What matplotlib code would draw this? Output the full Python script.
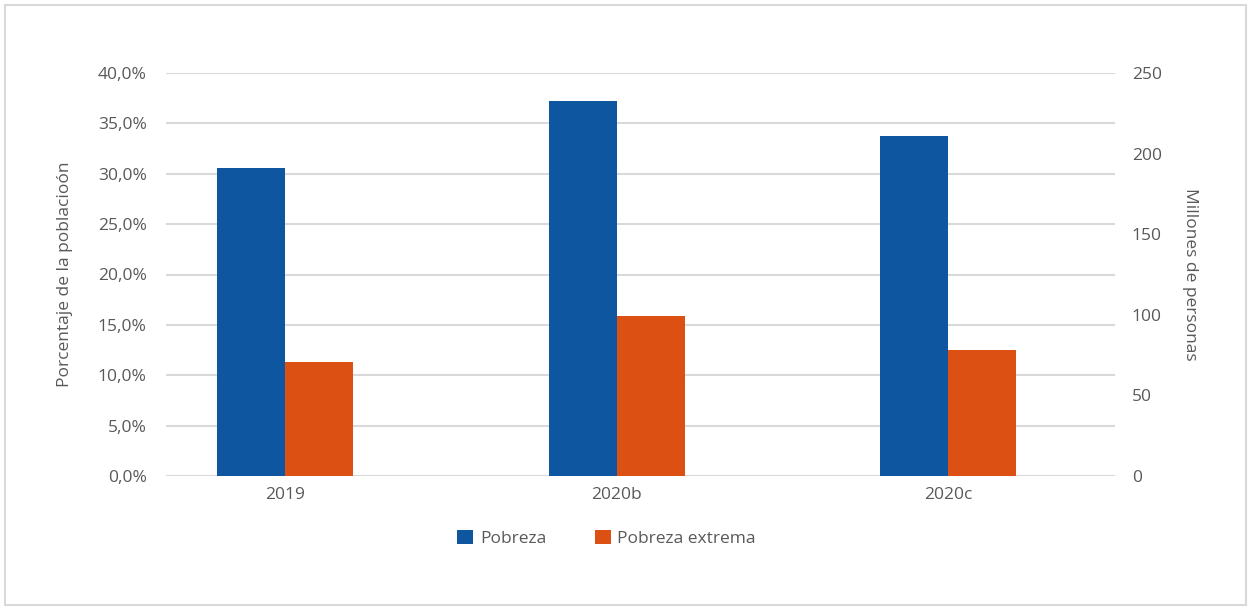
import matplotlib.pyplot as plt
from matplotlib.patches import FancyBboxPatch
import numpy as np

# data
years = ["2019", "2020b", "2020c"]
pobreza_pct = [30.6, 37.2, 33.7]          # % of population (left axis)
extrema_millones = [70.5, 99.0, 78.0]     # millions of people (right axis)

blue = "#0F56A0"
orange = "#DC5014"
grey_txt = "#595959"
grid_col = "#D9D9D9"

plt.rcParams['font.family'] = ['Open Sans', 'DejaVu Sans']
fs = 12.5

fig = plt.figure(figsize=(12.51, 6.10), dpi=100)
# light outer frame like the spreadsheet chart area
fig.patches.append(FancyBboxPatch((0.004, 0.008), 0.992, 0.984, boxstyle="square,pad=0",
                                  transform=fig.transFigure, fill=False,
                                  edgecolor="#D9D9D9", linewidth=1.5))

ax = fig.add_axes([0.1327, 0.2197, 0.7586, 0.6606])
ax2 = ax.twinx()

x = np.arange(len(years))
w = 0.205

ax.bar(x - w / 2, pobreza_pct, width=w, color=blue, label="Pobreza", zorder=3)
ax2.bar(x + w / 2, extrema_millones, width=w, color=orange, label="Pobreza extrema", zorder=3)

ax.set_xlim(-0.36, 2.504)
ax.set_ylim(0, 40)
ax2.set_ylim(0, 250)

ax.set_yticks(np.arange(0, 41, 5))
ax.set_yticklabels([f"{v:.1f}%".replace(".", ",") for v in np.arange(0, 41, 5)])
ax2.set_yticks(np.arange(0, 251, 50))

ax.set_xticks(x)
ax.set_xticklabels(years)

ax.grid(axis="y", color=grid_col, linewidth=1.5, zorder=0)
ax.set_axisbelow(True)

for a in (ax, ax2):
    for s in a.spines.values():
        s.set_visible(False)
    a.tick_params(length=0, labelsize=fs, labelcolor=grey_txt)
ax.tick_params(axis="y", pad=14)
ax2.tick_params(axis="y", pad=12)
ax.tick_params(axis="x", pad=8)

ax.set_ylabel("Porcentaje de la poblacioón", fontsize=fs, color=grey_txt, labelpad=18)
ax2.set_ylabel("Millones de personas", fontsize=fs, color=grey_txt, rotation=270, labelpad=26)

h1, l1 = ax.get_legend_handles_labels()
h2, l2 = ax2.get_legend_handles_labels()
fig.legend(h1 + h2, l1 + l2, loc="center", bbox_to_anchor=(0.485, 0.117), ncol=2,
           frameon=False, fontsize=fs, labelcolor=grey_txt, handlelength=0.9,
           handleheight=0.9, handletextpad=0.4, columnspacing=2.8)

fig.savefig("out.png", dpi=100)
